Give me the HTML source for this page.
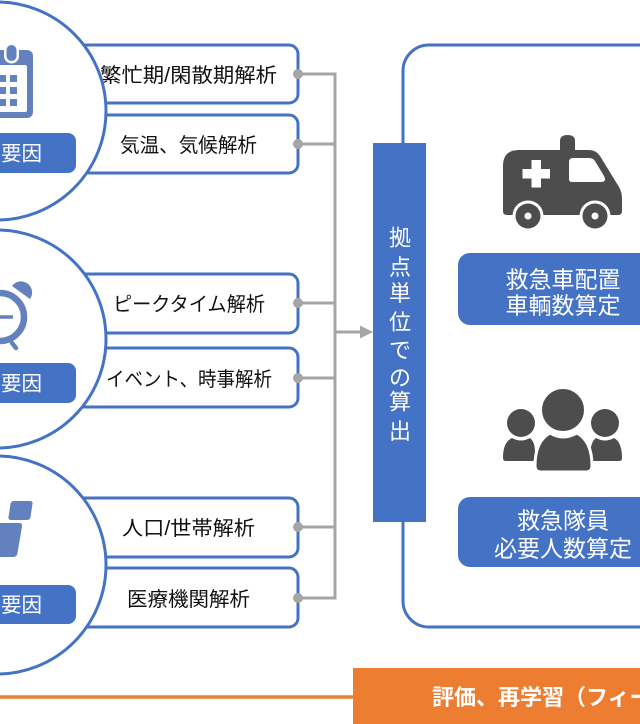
<!DOCTYPE html>
<html>
<head>
<meta charset="utf-8">
<style>
  html, body { margin:0; padding:0; background:#ffffff; }
  body { width:640px; height:724px; overflow:hidden; }
  svg { display:block; }
  text { font-family: "Liberation Sans", "Noto Sans CJK JP", sans-serif; }
</style>
</head>
<body>
<svg width="640" height="724" viewBox="0 0 640 724" xmlns="http://www.w3.org/2000/svg">
  <!-- Analysis boxes (behind circles) -->
  <g fill="#ffffff" stroke="#4472C4" stroke-width="3">
    <rect x="40" y="45" width="258" height="58" rx="9"/>
    <rect x="40" y="115" width="258" height="58" rx="9"/>
    <rect x="40" y="274" width="258" height="59" rx="9"/>
    <rect x="40" y="348" width="258" height="59" rx="9"/>
    <rect x="40" y="498" width="258" height="59" rx="9"/>
    <rect x="40" y="568" width="258" height="59" rx="9"/>
  </g>

  <!-- Box texts -->
  <g fill="#111111" font-size="20">
    <text x="100" y="82" textLength="177" lengthAdjust="spacingAndGlyphs">繁忙期/閑散期解析</text>
    <text x="120" y="152" textLength="137" lengthAdjust="spacingAndGlyphs">気温、気候解析</text>
    <text x="113" y="311" textLength="152" lengthAdjust="spacingAndGlyphs">ピークタイム解析</text>
    <text x="106" y="386" textLength="166" lengthAdjust="spacingAndGlyphs">イベント、時事解析</text>
    <text x="122" y="535" textLength="133" lengthAdjust="spacingAndGlyphs">人口/世帯解析</text>
    <text x="127" y="606" textLength="123" lengthAdjust="spacingAndGlyphs">医療機関解析</text>
  </g>

  <!-- Gray connectors -->
  <g stroke="#A5A5A5" stroke-width="3" fill="none">
    <line x1="298" y1="74" x2="336" y2="74"/>
    <line x1="298" y1="144" x2="336" y2="144"/>
    <line x1="298" y1="303" x2="336" y2="303"/>
    <line x1="298" y1="378" x2="336" y2="378"/>
    <line x1="298" y1="527" x2="336" y2="527"/>
    <line x1="298" y1="598" x2="336" y2="598"/>
    <line x1="335" y1="72.5" x2="335" y2="599.5"/>
    <line x1="335" y1="332" x2="362" y2="332"/>
  </g>
  <polygon points="360,325.5 373,332 360,338.5" fill="#A5A5A5"/>
  <g fill="#A5A5A5">
    <circle cx="298" cy="74" r="5"/>
    <circle cx="298" cy="144" r="5"/>
    <circle cx="298" cy="303" r="5"/>
    <circle cx="298" cy="378" r="5"/>
    <circle cx="298" cy="527" r="5"/>
    <circle cx="298" cy="598" r="5"/>
  </g>

  <!-- Circles -->
  <g fill="#ffffff" stroke="#4472C4" stroke-width="3">
    <circle cx="-3" cy="111" r="109"/>
    <circle cx="-3" cy="339" r="109"/>
    <circle cx="-3" cy="565" r="109"/>
  </g>

  <!-- Circle labels -->
  <g fill="#4472C4">
    <rect x="-20" y="133" width="96" height="40" rx="8"/>
    <rect x="-20" y="363" width="96" height="40" rx="8"/>
    <rect x="-20" y="585" width="96" height="39" rx="8"/>
  </g>
  <g fill="#ffffff" font-size="20.5" text-anchor="end">
    <text x="42" y="160.5">要因</text>
    <text x="42" y="390.5">要因</text>
    <text x="42" y="612">要因</text>
  </g>

  <!-- Calendar icon -->
  <g fill="#6381BE">
    <rect x="-12" y="50" width="45" height="68" rx="6"/>
  </g>
  <rect x="-12" y="65" width="39" height="47" rx="2" fill="#ffffff"/>
  <g fill="#6381BE">
    <rect x="-1" y="75" width="7" height="7"/>
    <rect x="10" y="75" width="7" height="7"/>
    <rect x="-1" y="87" width="7" height="7"/>
    <rect x="10" y="87" width="7" height="7"/>
    <rect x="-1" y="99" width="7" height="7"/>
    <rect x="10" y="99" width="7" height="7"/>
  </g>
  <rect x="4" y="42.5" width="15" height="21" rx="7.5" fill="#ffffff"/>
  <rect x="6.5" y="45" width="10" height="16" rx="5" fill="#6381BE"/>

  <!-- Alarm clock icon -->
  <circle cx="0" cy="317" r="24" fill="none" stroke="#6381BE" stroke-width="6.5"/>
  <line x1="-5" y1="317" x2="13" y2="317" stroke="#6381BE" stroke-width="3.5"/>
  <path d="M 12 286 A 11 11 0 0 1 30 299 Z" fill="#6381BE"/>
  <line x1="12" y1="343" x2="16" y2="348" stroke="#6381BE" stroke-width="4.5" stroke-linecap="round"/>

  <!-- Circle 3 icon -->
  <path d="M 14 501 L 30 501 Q 33 501 32.5 504 L 30.5 517 Q 30 520 27 520 L 11 520 Q 8 520 8.5 517 L 10.5 504 Q 11 501 14 501 Z" fill="#6381BE"/>
  <path d="M -20 523 L 19 523 Q 22.5 523 22 526.5 L 17.5 553 Q 17 557 13 557 L -26 557 Z" fill="#6381BE"/>

  <!-- Big right rounded rectangle -->
  <rect x="403" y="45" width="320" height="582" rx="26" fill="none" stroke="#4472C4" stroke-width="3"/>

  <!-- Vertical blue bar -->
  <rect x="373" y="143" width="53" height="379" fill="#4472C4"/>
  <g fill="#ffffff" font-size="22" text-anchor="middle">
    <text x="400" y="245.5">拠</text>
    <text x="400" y="275">点</text>
    <text x="400" y="301">単</text>
    <text x="400" y="330">位</text>
    <text x="400" y="358">で</text>
    <text x="400" y="385.5">の</text>
    <text x="400" y="409.5">算</text>
    <text x="400" y="439">出</text>
  </g>

  <!-- Ambulance -->
  <g fill="#4D4D4D">
    <path d="M 560 152 L 560 141 Q 560 135 567.5 135 Q 575 135 575 141 L 575 152 Z"/>
    <path d="M 503 166 Q 503 150 519 150 L 589 150 Q 596 150 600 156 L 619 187 Q 622 192 622 199 L 622 211 Q 622 215 618 215 L 507 215 Q 503 215 503 211 Z"/>
  </g>
  <g fill="#ffffff">
    <rect x="531.5" y="160" width="9.5" height="27.5"/>
    <rect x="522.5" y="169" width="27.5" height="9.5"/>
    <path d="M 569 162 Q 569 158 573 158 L 589 158 Q 593 158 595 161 L 604 176 Q 607 182 601 182 L 572 182 Q 569 182 569 179 Z"/>
    <circle cx="528" cy="216" r="15.5"/>
    <circle cx="595" cy="216" r="15.5"/>
  </g>
  <g fill="#4D4D4D">
    <circle cx="528" cy="216" r="12.5"/>
    <circle cx="595" cy="216" r="12.5"/>
  </g>
  <g fill="#ffffff">
    <circle cx="528" cy="216" r="3.5"/>
    <circle cx="595" cy="216" r="3.5"/>
  </g>

  <!-- Label 1 -->
  <rect x="458" y="253" width="250" height="72" rx="12" fill="#4472C4"/>
  <g fill="#ffffff" font-size="23" text-anchor="middle">
    <text x="563" y="287.5">救急車配置</text>
    <text x="563" y="313.5">車輌数算定</text>
  </g>

  <!-- People icon -->
  <g fill="#4D4D4D">
    <path d="M 503 458 Q 503 442 512 438 Q 521 443 530 438 Q 535 442 535 452 L 535 458 Q 535 461 532 461 L 506 461 Q 503 461 503 458 Z"/>
    <path d="M 590 458 Q 590 442 596 438 Q 605 443 614 438 Q 622 442 622 458 Q 622 461 619 461 L 593 461 Q 590 461 590 458 Z"/>
    <circle cx="521" cy="423" r="14"/>
    <circle cx="605" cy="423" r="14"/>
  </g>
  <path d="M 535 466 Q 535 441 550 433 Q 563 441 577 433 Q 592 441 592 466 Q 592 472 586 472 L 541 472 Q 535 472 535 466 Z" fill="#4D4D4D" stroke="#ffffff" stroke-width="3"/>
  <circle cx="563" cy="410" r="22.5" fill="#4D4D4D" stroke="#ffffff" stroke-width="3"/>

  <!-- Label 2 -->
  <rect x="458" y="497" width="250" height="70" rx="12" fill="#4472C4"/>
  <g fill="#ffffff" font-size="23" text-anchor="middle">
    <text x="563" y="528.5">救急隊員</text>
    <text x="563" y="556.5">必要人数算定</text>
  </g>

  <!-- Orange feedback bar -->
  <line x1="0" y1="697" x2="356" y2="697" stroke="#ED7D31" stroke-width="3.5"/>
  <rect x="353" y="668" width="300" height="60" fill="#ED7D31"/>
  <text x="432" y="705" fill="#ffffff" font-size="22" font-weight="bold">評価、再学習（フィードバック）</text>
</svg>
</body>
</html>
